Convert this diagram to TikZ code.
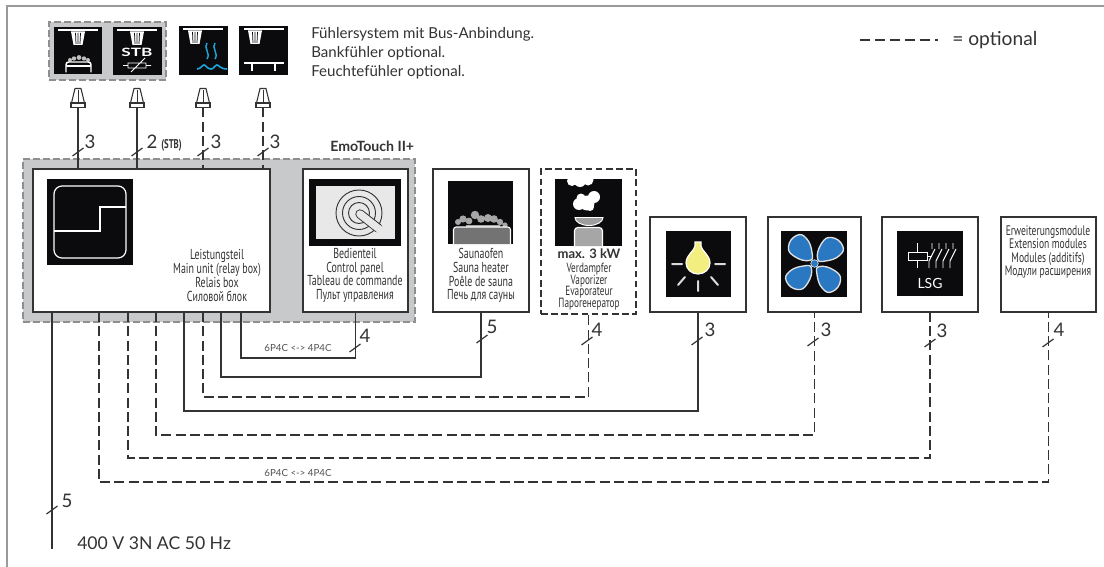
\documentclass[tikz,border=0pt]{standalone}
\usepackage{fontspec}
\setmainfont{Lato}
\newfontfamily\cond[FakeStretch=0.69]{PT Sans}
\usetikzlibrary{calc}
\newcommand\tightlines{\lineskiplimit=-6pt\relax}
\definecolor{ink}{HTML}{333333}
\definecolor{grp}{HTML}{C8C9CB}
\definecolor{grpline}{HTML}{8E8F91}
\definecolor{frameg}{HTML}{9A9A9C}
\definecolor{icon}{HTML}{0B0B0D}
\definecolor{cy}{HTML}{1BA6DC}
\definecolor{fanb}{HTML}{2B78C2}
\definecolor{bulb}{HTML}{F3EE80}
\tikzset{
  x=.75pt,y=-.75pt,
  wire/.style={draw=ink,line width=1.1pt},
  dwire/.style={wire,dash pattern=on 7.5pt off 3.2pt},
  box/.style={draw=ink,line width=1.1pt,fill=white},
  dbox/.style={box,dash pattern=on 5pt off 2.6pt},
  group/.style={draw=grpline,fill=grp,line width=1pt,dash pattern=on 5pt off 2.5pt},
  blk/.style={fill=icon,draw=none},
  txt/.style={inner sep=0,align=center,text=ink},
  cond/.style={txt,font=\cond\fontsize{10.8}{10.3}\selectfont\tightlines},
  num/.style={txt,font=\fontsize{14}{14}\selectfont},
  sm/.style={txt,font=\fontsize{7.3}{8}\selectfont,text=ink!85},
}
\newcommand\pxbox[6][box]{\node[#1,anchor=north west,inner sep=0,outer sep=0,minimum width=(#4-#2)*0.75pt,minimum height=(#5-#3)*0.75pt] (#6) at (#2,#3) {};}
\newcommand\tcone[2]{%
  \coordinate (#2) at (#1,107.5);
  \begin{scope}[shift={(#1,0)}]
    \draw[ink,line width=.8pt,fill=white,line join=round] (-3,88.5)--(3,88.5)--(6.5,103)--(-6.5,103)--cycle;
    \draw[ink,line width=.8pt,fill=white] (-7,103) rectangle (7,107.5);
    \draw[ink,line width=.6pt] (0,90)--(0,103);
  \end{scope}}
\newcommand\tk[2]{\draw[ink,line width=.9pt] (#1-5.5,#2+4)--(#1+5.5,#2-4);}
\newcommand\sensor[3]{%
  \draw[white,line width=1.4pt] (#1,#3)--(#1+40,#3);
  \begin{scope}[shift={(#2,#3)}]
    \fill[white] (-7,1.5)--(7,1.5)--(4.5,15)--(-4.5,15)--cycle;
    \draw[icon,line width=.55pt] (-2.5,3)--(-2,14) (0,3)--(0,14) (2.5,3)--(2,14);
  \end{scope}}
\begin{document}
\begin{tikzpicture}
\useasboundingbox (0,0) rectangle (1104,567);
\fill[white] (0,0) rectangle (1104,567);
\draw[frameg,line width=1.9pt] (7,567)--(7,6)--(1104,6);

% sensor group and icons
\pxbox[group]{49}{22}{166}{80}{sgroup}
\pxbox[blk]{54}{27}{102}{74}{s1}
\pxbox[blk]{113}{27}{162}{75}{s2}
\pxbox[blk]{179}{26}{228}{75}{s3}
\pxbox[blk]{239}{26}{288}{75}{s4}
\sensor{58}{78}{30}
\sensor{117}{137}{30}
\sensor{183}{195}{29}
\sensor{244}{255}{29}
% s1 heater
\fill[white!75!black] (70,60) circle (2) (74,58.5) circle (2.2) (79,57.5) circle (2.4) (84,58.5) circle (2.2) (88,60) circle (2);
\draw[white,line width=1.1pt,rounded corners=2pt,fill=icon] (66,72.5)--(66,62)--(91,62)--(91,72.5);
\draw[white,line width=1pt] (66,66)--(91,66);
% s2 STB
\node[txt,text=white,font=\bfseries\fontsize{8.6}{9}\selectfont] (stb) at (137,52) {\scalebox{1.5}[1]{STB}};
\draw[white,line width=.7pt] (123,65.5)--(128,65.5) (146,65.5)--(151,65.5) (128,63) rectangle (146,68) (131,72)--(145,58);
% s3 waves and steam
\draw[cy,line width=1.1pt] (207,43) .. controls (203,48) and (211,53) .. (207,59) (215,43) .. controls (211,48) and (219,53) .. (215,59);
\draw[cy,line width=1.2pt] (197,69) .. controls (201,69) and (202,65) .. (204,65) .. controls (206,65) and (207,69) .. (211,69) .. controls (214,69) and (215,65) .. (217,65) .. controls (219,65) and (220,69) .. (227,69);
% s4 bench
\draw[white,line width=1.4pt] (244,63)--(284,63);
\draw[white,line width=1.2pt] (252,63)--(252,71.5) (275,63)--(275,71.5);

\node[txt,anchor=north west,align=left,font=\fontsize{11.3}{14.2}\selectfont] (topnote) at (311,27) {Fühlersystem mit Bus-Anbindung.\\Bankfühler optional.\\Feuchtefühler optional.};
\coordinate (lega) at (860,40);
\coordinate (legb) at (938,40);
\draw[ink,line width=.8pt,dash pattern=on 7.6pt off 3.6pt] (lega)--(legb);
\node[txt,anchor=west,font=\fontsize{14.4}{14}\selectfont] (legt) at (952,40) {= optional};

% cones
\tcone{78}{c1}\tcone{137}{c2}\tcone{203}{c3}\tcone{263}{c4}

% main group
\pxbox[group]{23}{159}{415}{322}{ggroup}
\node[txt,anchor=south west,font=\bfseries\fontsize{10.6}{10}\selectfont] (emo) at (330,152) {EmoTouch II+};
\pxbox{33}{169}{270}{312}{unit}
\pxbox{303}{169}{408}{312}{panel}
\pxbox[blk]{47}{179}{133}{265}{uicon}
\draw[white,line width=.9pt,rounded corners=6pt] (54,186) rectangle (126,258);
\draw[white,line width=.9pt] (54,231)--(100,231)--(100,207)--(126,207);
\pxbox[blk]{309}{179}{401}{246}{picon}
\pxbox[{fill=white!91!black}]{316}{186}{395}{239}{pscreen}
\draw[ink,line width=.7pt] (359,213) circle (23) (359,213) circle (16.5) (359,213) circle (10.5);
\draw[ink,line width=7pt,line cap=round] (360,214)--(378,228);
\draw[white!91!black,line width=5.6pt,line cap=round] (360,214)--(381,230.5);

\node[cond] (tunit) at (217,275.5) {Leistungsteil\\Main unit (relay box)\\Relais box\\Силовой блок};
\node[cond] (tpanel) at (355,275.5) {Bedienteil\\Control panel\\Tableau de commande\\Пульт управления};

% heater
\pxbox{433}{169}{529}{312}{heater}
\pxbox[blk]{448}{181}{513}{244}{hicon}
\fill[white!65!black] (458,222) circle (3) (463,219) circle (3.6) (469,221) circle (3.4) (475,215) circle (4.2) (481,219) circle (3.8) (488,218) circle (4) (494,219) circle (3.8) (500,222) circle (3.2) (505,225) circle (2.6) (466,225) rectangle (500,228);
\draw[white,line width=.8pt,fill=white!45!black,rounded corners=2pt] (453.5,244)--(453.5,227)--(510.5,227)--(510.5,244);
\node[cond] (theater) at (481,275.5) {Saunaofen\\Sauna heater\\Poêle de sauna\\Печь для сауны};

% vaporizer
\pxbox[dbox]{541}{169}{636}{314}{vap}
\pxbox[blk]{555}{179}{622}{246}{vicon}
\begin{scope}
  \clip (555,179) rectangle (622,246);
  \fill[white] (572,181) circle (5) (580,181) circle (6) (588,180) circle (5.5);
\end{scope}
\fill[white] (579,204) circle (6) (587,203) circle (7.5) (594,197) circle (6) (581,198) circle (4.5) (590,207) circle (4);
\draw[white,line width=.7pt,fill=white!62!black] (575,217.5)--(603,217.5) arc[start angle=0,end angle=180,x radius=14,y radius=8] -- cycle;
\draw[white,line width=.9pt,fill=white!65!black,rounded corners=2.5pt] (574.5,246)--(574.5,227.5)--(602.5,227.5)--(602.5,246);
\node[txt,font=\bfseries\fontsize{9.8}{10}\selectfont] (tvapb) at (589,254) {max. 3 kW};
\node[cond,font=\cond\fontsize{10}{8.8}\selectfont\tightlines] (tvap) at (589,286.5) {Verdampfer\\Vaporizer\\Evaporateur\\Парогенератор};

% lamp
\pxbox{650}{217}{746}{312}{lamp}
\pxbox[blk]{666}{231}{731}{297}{licon}
\draw[white,line width=.9pt,fill=bulb] (695,246) -- (695,242) -- (701,242) -- (701,246) .. controls (701,250) and (710,255) .. (710,263) arc[start angle=0,end angle=180,x radius=12,y radius=11] .. controls (686,255) and (695,250) .. (695,246) -- cycle;
\draw[white!85!black,line width=1.5pt,line cap=round] (672,264)--(682,264) (715,264)--(725,264) (678,285)--(685,277) (698,281)--(698,291) (718,285)--(711,277);

% fan
\pxbox{768}{217}{861}{312}{fan}
\pxbox[blk]{781}{231}{847}{297}{ficon}
\begin{scope}[shift={(814.5,263.5)}]
  \foreach \a in {0,90,180,270}{
    \draw[rotate=\a,white!88!black,line width=1pt,fill=fanb] plot[smooth cycle,tension=.85] coordinates {(3,-5) (7,-20) (17,-26) (28,-18) (25,-8) (11,-2.5)};
  }
  \fill[fanb,draw=white!88!black,line width=.5pt] (0,0) circle (3.8);
\end{scope}

% LSG
\pxbox{882}{217}{978}{312}{lsg}
\pxbox[blk]{897}{231}{963}{296}{sicon}
\draw[white,line width=.7pt] (908,252) rectangle (927,260) (917,243)--(917,252) (917,260)--(917,268) (927,256)--(932,256);
\foreach \k in {932,939,946,953}{
  \draw[white,line width=.7pt] (\k,243)--(\k,249) (\k-3,261)--(\k+3,249) (\k-3,261)--(\k-3,268);
}
\node[txt,text=white,font=\fontsize{10.5}{11}\selectfont] (lsgt) at (930,283) {LSG};

% extension
\pxbox{1001}{217}{1096}{312}{ext}
\node[cond,font=\cond\fontsize{10.4}{10.1}\selectfont\tightlines] (text) at (1048,252) {Erweiterungsmodule\\Extension modules\\Modules (additifs)\\Модули расширения};

% upper connectors
\draw[wire] (c1)--(c1 |- unit.north);
\draw[wire] (c2)--(c2 |- unit.north);
\draw[dwire] (c3)--(c3 |- unit.north);
\draw[dwire] (c4)--(c4 |- unit.north);
\tk{78}{152}\tk{137}{152}\tk{203}{152}\tk{263}{152}
\node[num] (n1) at (90,142) {3};
\node[num] (n2) at (152,142) {2};
\node[txt,font=\bfseries\cond\fontsize{9.5}{8}\selectfont,anchor=west] (nstb) at (161,145) {(STB)};
\node[num] (n3) at (216,142) {3};
\node[num] (n4) at (275,142) {3};

% lower connectors
\coordinate (mains) at (52,549);
\draw[wire] (mains |- unit.south)--(mains);
\tk{52}{510}
\node[num] (n5) at (67,501) {5};
\node[txt,anchor=west,font=\fontsize{13.2}{14}\selectfont] (mainst) at (77,543) {400 V 3N AC 50 Hz};

\draw[wire] ([shift={(208,0)}]unit.south west)--++(0,46)-|(panel.south);
\tk{355}{348}\node[num] (n6) at (365,336) {4};
\node[sm] (p1) at (298,348) {6P4C <-> 4P4C};

\draw[wire] ([shift={(188,0)}]unit.south west)--++(0,65)-|(heater.south);
\tk{482}{339}\node[num] (n7) at (492,327) {5};

\draw[dwire] ([shift={(170,0)}]unit.south west)--++(0,85)-|(vap.south);
\tk{587}{341}\node[num] (n8) at (597,330) {4};

\draw[wire] ([shift={(151,0)}]unit.south west)--++(0,99)-|(lamp.south);
\tk{697}{341}\node[num] (n9) at (710,330) {3};

\draw[dwire] ([shift={(123,0)}]unit.south west)--++(0,123)-|(fan.south);
\tk{813}{342}\node[num] (n10) at (826,330) {3};

\draw[dwire] ([shift={(95,0)}]unit.south west)--++(0,146)-|(lsg.south);
\tk{930}{343}\node[num] (n11) at (942,331) {3};

\draw[dwire] ([shift={(66,0)}]unit.south west)--++(0,170)-|(ext.south);
\tk{1048}{343}\node[num] (n12) at (1059,330) {4};
\node[sm] (p2) at (298,473) {6P4C <-> 4P4C};
\end{tikzpicture}
\end{document}
